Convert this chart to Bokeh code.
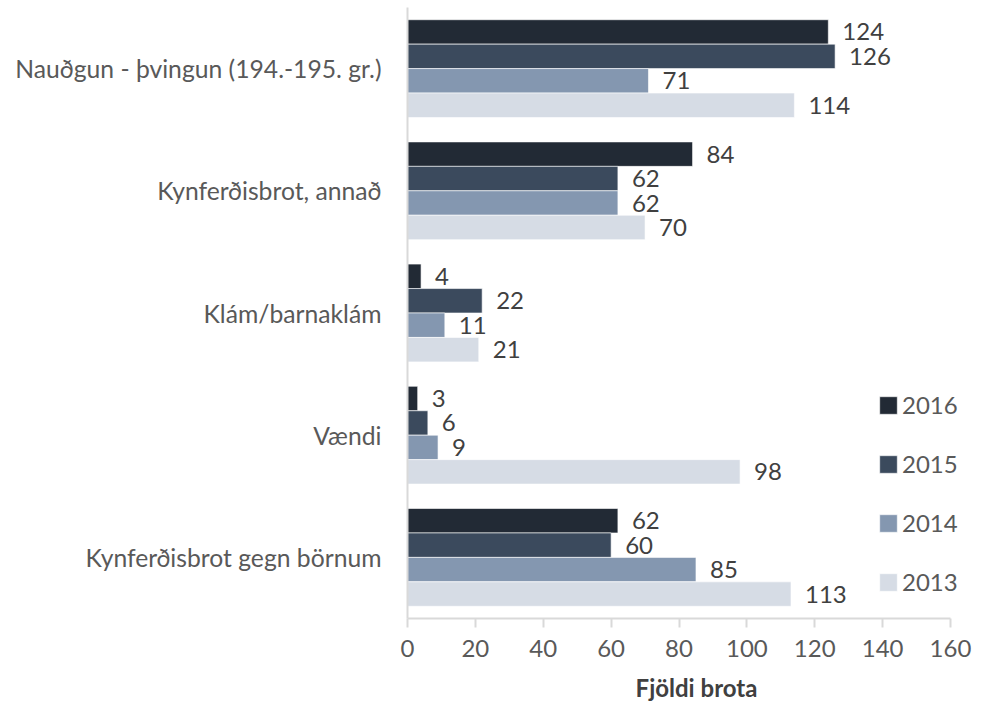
from bokeh.plotting import figure
from bokeh.models import ColumnDataSource, FactorRange, Range1d, FixedTicker, Legend, LegendItem
from bokeh.transform import dodge
from bokeh.core.properties import value
from bokeh.embed import file_html
from bokeh.resources import INLINE

categories = ["Nauðgun - þvingun (194.-195. gr.)", "Kynferðisbrot, annað", "Klám/barnaklám",
              "Vændi", "Kynferðisbrot gegn börnum"]
years = ["2016", "2015", "2014", "2013"]
v2016 = [124, 84, 4, 3, 62]
v2015 = [126, 62, 22, 6, 60]
v2014 = [71, 62, 11, 9, 85]
v2013 = [114, 70, 21, 98, 113]
xticks = [0, 20, 40, 60, 80, 100, 120, 140, 160]
x_title = "Fjöldi brota"

colors = {"2016": "#222a35", "2015": "#3b4a5d", "2014": "#8497b0", "2013": "#d6dce5"}
offsets = {"2016": 0.3, "2015": 0.1, "2014": -0.1, "2013": -0.3}
series = {"2016": v2016, "2015": v2015, "2014": v2014, "2013": v2013}

FONT = "Lato"
FS = "24px"
data = {"cat": categories}
for y in years:
    data["v" + y] = series[y]
    data["l" + y] = [str(v) for v in series[y]]
src = ColumnDataSource(data)

# frame: 543 px for 0..160; extended to the right so the legend and title sit as in the original
FRAME_W = 578
x_end = xticks[-1] * FRAME_W / 543.0

p = figure(y_range=FactorRange(*list(reversed(categories))), x_range=Range1d(0, x_end),
           frame_width=FRAME_W, frame_height=611, output_backend="svg", toolbar_location=None,
           min_border_left=407, min_border_right=0, min_border_top=7, min_border_bottom=90)

items = []
for y in years:
    r = p.hbar(y=dodge("cat", offsets[y], range=p.y_range), right="v" + y, left=0, height=0.2,
               source=src, fill_color=colors[y], line_color="white", line_width=0.6)
    p.text(x="v" + y, y=dodge("cat", offsets[y], range=p.y_range), text="l" + y, source=src,
           x_offset=14, text_align="left", text_baseline="middle",
           text_font=value(FONT), text_font_size=FS, text_color="#404040")
    items.append(LegendItem(label=y, renderers=[r]))

legend = Legend(items=items, location=(470, 22), padding=0, margin=0,
                glyph_width=22, glyph_height=22, label_standoff=3, spacing=30,
                label_text_font=FONT, label_text_font_size=FS, label_text_color="#595959",
                border_line_color=None, background_fill_alpha=0, label_height=20)
p.add_layout(legend)

p.xgrid.grid_line_color = None
p.ygrid.grid_line_color = None
p.outline_line_color = None
p.background_fill_color = "white"

p.xaxis.ticker = FixedTicker(ticks=xticks)
p.xaxis.bounds = (xticks[0], xticks[-1])
p.xaxis.axis_line_color = "#d9d9d9"
p.xaxis.axis_line_width = 2
p.xaxis.major_tick_line_color = "#d9d9d9"
p.xaxis.major_tick_line_width = 2
p.xaxis.major_tick_out = 9
p.xaxis.major_tick_in = 0
p.xaxis.minor_tick_line_color = None
p.xaxis.major_label_text_font = FONT
p.xaxis.major_label_text_font_size = FS
p.xaxis.major_label_text_color = "#595959"
p.xaxis.major_label_standoff = 12
p.xaxis.axis_label = x_title
p.xaxis.axis_label_text_font = FONT
p.xaxis.axis_label_text_font_style = "bold"
p.xaxis.axis_label_text_font_size = "24px"
p.xaxis.axis_label_text_color = "#404040"
p.xaxis.axis_label_standoff = 13

p.yaxis.axis_line_color = "#d9d9d9"
p.yaxis.axis_line_width = 2
p.yaxis.major_tick_line_color = None
p.yaxis.major_tick_out = 0
p.yaxis.major_tick_in = 0
p.yaxis.minor_tick_line_color = None
p.yaxis.major_label_text_font = FONT
p.yaxis.major_label_text_font_size = "24.7px"
p.yaxis.major_label_text_color = "#595959"
p.yaxis.major_label_standoff = 26

open("out.html", "w").write(file_html(p, INLINE))
